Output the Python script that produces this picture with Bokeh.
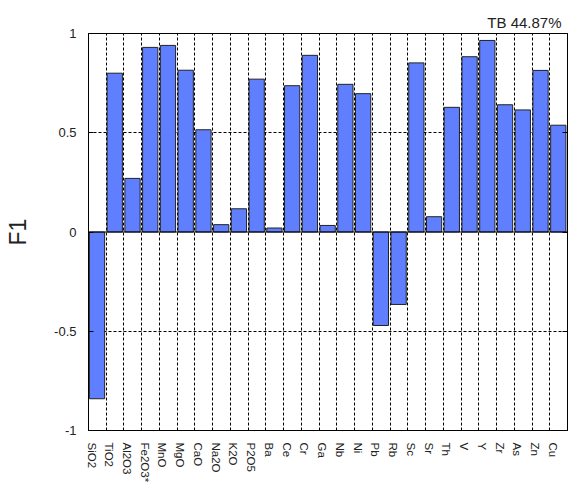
from bokeh.plotting import figure
from bokeh.models import (Range1d, FixedTicker, LinearAxis, CustomJSTickFormatter,
                          Span, Title, ColumnDataSource)
from bokeh.embed import file_html
from bokeh.resources import INLINE

categories = ["SiO2", "TiO2", "Al2O3", "Fe2O3*", "MnO", "MgO", "CaO", "Na2O", "K2O",
              "P2O5", "Ba", "Ce", "Cr", "Ga", "Nb", "Ni", "Pb", "Rb", "Sc", "Sr",
              "Th", "V", "Y", "Zr", "As", "Zn", "Cu"]
f1_values = [-0.84, 0.80, 0.27, 0.93, 0.94, 0.815, 0.515, 0.037, 0.117,
             0.77, 0.02, 0.737, 0.89, 0.033, 0.744, 0.697, -0.471, -0.365, 0.852, 0.077,
             0.628, 0.883, 0.965, 0.641, 0.615, 0.814, 0.538]
y_ticks = [-1, -0.5, 0, 0.5, 1]
annotation_text = "TB 44.87%"
y_label = "F1"

FONT = "Liberation Sans"
n = len(categories)
xs = [i + 0.48 for i in range(n)]
src = ColumnDataSource(dict(x=xs, top=f1_values, cat=categories))

p = figure(width=574, height=487, output_backend="svg", toolbar_location=None,
           x_range=Range1d(0, n), y_range=Range1d(-1, 1),
           min_border_left=88, min_border_right=7, min_border_top=33, min_border_bottom=57)
p.background_fill_color = "white"
p.border_fill_color = "white"
p.outline_line_color = "black"
p.outline_line_width = 1

p.add_layout(Title(text=annotation_text, align="right", offset=6,
                   text_font=FONT, text_font_size="15px", text_font_style="normal",
                   text_color="#222222", standoff=5), "above")

# grids
p.xgrid.ticker = FixedTicker(ticks=list(range(1, n)))
p.xgrid.grid_line_color = "black"
p.xgrid.grid_line_dash = "3 2"
p.xgrid.grid_line_width = 1
p.ygrid.ticker = FixedTicker(ticks=[-0.5, 0.5])
p.ygrid.grid_line_color = "black"
p.ygrid.grid_line_dash = "3 2"
p.ygrid.grid_line_width = 1

p.vbar(x="x", top="top", bottom=0, width=0.86, source=src,
       fill_color="#5F7FFF", line_color="#222222", line_width=1)

p.add_layout(Span(location=0, dimension="width", line_color="black", line_width=1))

# x axis
xa = p.xaxis[0]
xa.ticker = FixedTicker(ticks=[i + 0.17 for i in range(n)])
xa.formatter = CustomJSTickFormatter(args=dict(labels=categories),
                                     code="return labels[Math.round(tick - 0.17)];")
xa.major_label_orientation = "vertical"
xa.major_tick_line_color = None
xa.minor_tick_line_color = None
xa.axis_line_color = "black"
xa.major_label_standoff = 6
xa.major_label_text_font = FONT
xa.major_label_text_font_size = "11.5px"
xa.major_label_text_color = "#222222"

# y axis
ya = p.yaxis[0]
ya.ticker = FixedTicker(ticks=y_ticks)
ya.formatter = CustomJSTickFormatter(code="return tick.toString();")
ya.major_tick_in = 5
ya.major_tick_out = 0
ya.minor_tick_line_color = None
ya.major_label_standoff = 12
ya.major_label_text_font = FONT
ya.major_label_text_font_size = "13px"
ya.major_label_text_color = "#222222"
ya.axis_label = y_label
ya.axis_label_text_font = FONT
ya.axis_label_text_font_style = "normal"
ya.axis_label_text_font_size = "23px"
ya.axis_label_standoff = 20
ya.axis_label_text_color = "#222222"

ra = LinearAxis(ticker=FixedTicker(ticks=y_ticks), major_tick_in=5, major_tick_out=0,
                minor_tick_line_color=None,
                formatter=CustomJSTickFormatter(code="return '';"),
                major_label_standoff=0)
p.add_layout(ra, "right")

open("out.html", "w").write(file_html(p, INLINE))
